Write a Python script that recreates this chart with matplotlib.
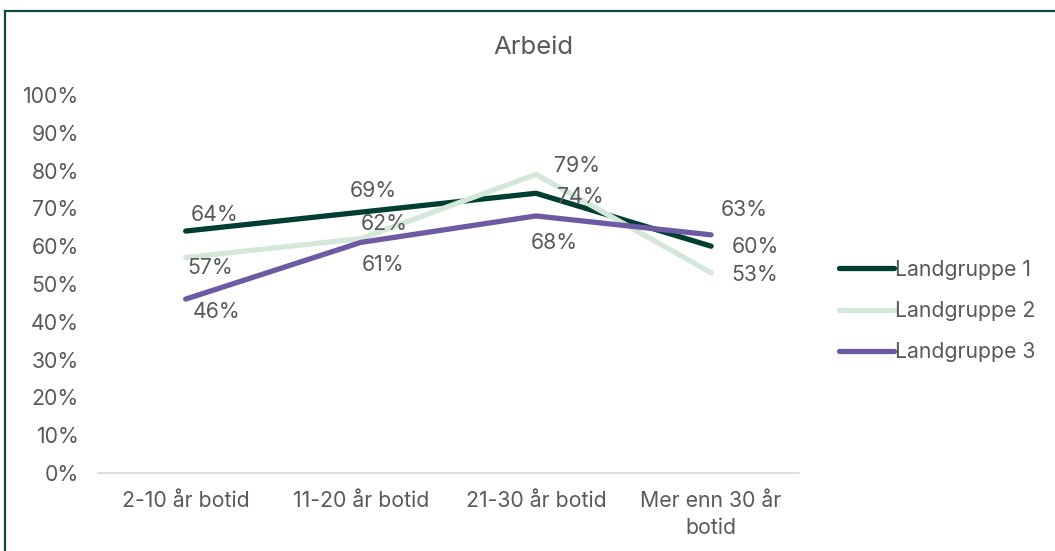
import matplotlib.pyplot as plt
from matplotlib.lines import Line2D

plt.rcParams['font.family'] = ['Inter', 'DejaVu Sans']

categories = ['2-10 år botid', '11-20 år botid', '21-30 år botid', 'Mer enn 30 år\nbotid']
landgruppe_1 = [64, 69, 74, 60]
landgruppe_2 = [57, 62, 79, 53]
landgruppe_3 = [46, 61, 68, 63]
series_names = ['Landgruppe 1', 'Landgruppe 2', 'Landgruppe 3']
colors = ['#003D32', '#D4E8DA', '#6E5AA2']

# label offsets in pixels (dx, dy) for each series / point
label_offsets = [
    [(29, 16), (13, 21), (44, -4), (44, -1)],
    [(24, -10), (23, 15), (41, 8), (44, -2)],
    [(31, -13), (22, -23), (18, -27), (33, 25)],
]

text_grey = '#595959'
fs = 15.3

fig = plt.figure(figsize=(10.55, 5.51), dpi=100)
ax = fig.add_axes([0.093, 0.1416, 0.664, 0.686])

x = range(len(categories))
for vals, name, col, offs in zip([landgruppe_1, landgruppe_2, landgruppe_3],
                                 series_names, colors, label_offsets):
    ax.plot(x, [v / 100 for v in vals], color=col, lw=3.8,
            solid_capstyle='round', solid_joinstyle='round', label=name)
    for i, v in enumerate(vals):
        ax.annotate(f'{v}%', (i, v / 100), xytext=offs[i], textcoords='offset pixels',
                    ha='center', va='center', fontsize=fs, color=text_grey)

ax.set_xlim(-0.5, len(categories) - 0.5)
ax.set_ylim(0, 1)
ax.set_yticks([i / 10 for i in range(11)])
ax.set_yticklabels([f'{i * 10}%' for i in range(11)])
ax.set_xticks(list(x))
ax.set_xticklabels(categories, linespacing=1.45)
ax.tick_params(axis='both', length=0, labelsize=fs, labelcolor=text_grey)
ax.tick_params(axis='y', pad=14)
ax.tick_params(axis='x', pad=13)

for side in ['top', 'right', 'left']:
    ax.spines[side].set_visible(False)
ax.spines['bottom'].set_color('#D9D9D9')
ax.spines['bottom'].set_linewidth(1.2)

fig.text(533.5 / 1055, 1 - 47 / 551, 'Arbeid', fontsize=18.5, color=text_grey,
         ha='center', va='center')

leg = fig.legend(loc='center left', bbox_to_anchor=(0.7775, 0.4356), frameon=False,
                 fontsize=fs, handlelength=2.55, handletextpad=0.05, labelspacing=1.0)
for t in leg.get_texts():
    t.set_color(text_grey)

# frame edges along the top and left of the chart area
frame_col = '#0E4A40'
fig.add_artist(Line2D([5 / 1055, 1], [1 - 10.5 / 551] * 2, transform=fig.transFigure,
                      color=frame_col, lw=1.6))
fig.add_artist(Line2D([5 / 1055] * 2, [0, 1 - 10.5 / 551], transform=fig.transFigure,
                      color=frame_col, lw=1.6))

fig.savefig('out.png', dpi=100)
